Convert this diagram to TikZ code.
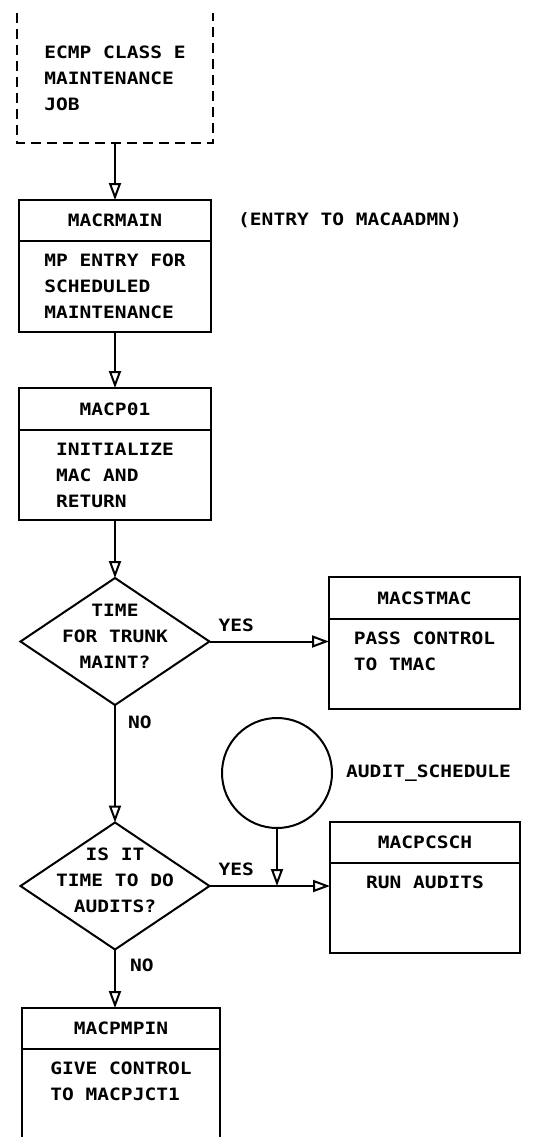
\documentclass[tikz,border=0pt]{standalone}
\usepackage{fontspec}
\setmonofont[FakeStretch=1.15]{DejaVu Sans Mono}
\usetikzlibrary{arrows.meta, positioning, shapes.geometric}
\newcommand{\zbox}[1]{\makebox[0pt]{\smash{\begin{tabular}{@{}c@{}}#1\end{tabular}}}}
\tikzset{
  hdbox/.style={draw, line width=2pt, minimum height=41pt, outer sep=0pt, inner sep=0pt},
  bdbox/.style={draw, line width=2pt, minimum height=90pt, outer sep=0pt, inner sep=0pt,
                align=left},
  decbox/.style={diamond, draw, line width=2pt, minimum width=189pt, minimum height=127pt,
                 inner sep=0pt, outer sep=0pt},
  arr/.style={-{Triangle[open, length=17pt, width=12pt]}, line width=2pt},
  lbl/.style={inner sep=0pt},
}

\begin{document}
\begin{tikzpicture}[x=1pt, y=-1pt, every node/.style={font=\ttfamily\bfseries\fontsize{17}{26}\selectfont}]
  \useasboundingbox[fill=white] (0,0) rectangle (540,1137);

  % starting job (open at the top)
  \node[minimum width=195pt, minimum height=130pt, align=left, inner sep=0pt]
    (job) at (115,78) {ECMP CLASS E\\MAINTENANCE\\JOB};
  \draw[line width=2pt, dash pattern=on 10pt off 6pt]
    (job.north west) -- (job.south west) -- (job.south east) -- (job.north east);

  \node[hdbox, minimum width=192pt] (mainhd) at (115,220.5) {MACRMAIN};
  \node[bdbox, minimum width=192pt, minimum height=91pt, below=0pt of mainhd]
    (mainbd) {MP ENTRY FOR\\SCHEDULED\\MAINTENANCE};
  \node[right=27pt of mainhd, inner sep=0pt] (entry) {(ENTRY TO MACAADMN)};

  \node[hdbox, minimum width=192pt, minimum height=42pt] (p01hd) at (115,409) {MACP01};
  \node[bdbox, minimum width=192pt, below=0pt of p01hd]
    (p01bd) {INITIALIZE\\MAC AND\\RETURN};

  \node[decbox] (trunk) at (115,641.5) {\zbox{TIME\\FOR TRUNK\\MAINT?}};
  \node[hdbox, minimum width=191pt, minimum height=42pt] (stmachd) at (424.5,598) {MACSTMAC};
  \node[bdbox, minimum width=191pt, below=0pt of stmachd]
    (stmacbd) {PASS CONTROL\\TO TMAC\\\mbox{}};

  \node[decbox] (audq) at (115,886) {\zbox{IS IT\\TIME TO DO\\AUDITS?}};
  \node[circle, draw, line width=2pt, minimum size=110pt, inner sep=0pt, outer sep=0pt]
    (sched) at (277,773) {};
  \node[right=14pt of sched, inner sep=0pt] (schedlbl) {AUDIT\_SCHEDULE};
  \node[hdbox, minimum width=190pt] (pcschhd) at (425,842.5) {MACPCSCH};
  \node[bdbox, minimum width=190pt, below=0pt of pcschhd]
    (pcschbd) {RUN AUDITS\\\mbox{}\\\mbox{}};

  \node[hdbox, minimum width=198pt] (mpinhd) at (121,1028.5) {MACPMPIN};
  \node[bdbox, minimum width=198pt, below=0pt of mpinhd]
    (mpinbd) {GIVE CONTROL\\TO MACPJCT1\\\mbox{}};

  % flow
  \draw[arr] (job.south) -- (mainhd.north);
  \draw[arr] (mainbd.south) -- (p01hd.north);
  \draw[arr] (p01bd.south) -- (trunk.north);
  \draw[arr] (trunk.east) -- (trunk.east -| stmacbd.west)
    node[lbl, pos=0, anchor=south west, xshift=8pt, yshift=9pt] {YES};
  \draw[arr] (trunk.south) -- (audq.north)
    node[lbl, pos=0.15, right=12pt] {NO};
  \draw[arr] (audq.east) -- (audq.east -| pcschbd.west)
    node[lbl, pos=0, anchor=south west, xshift=8pt, yshift=9pt] {YES};
  \draw[arr] (sched.south) -- (sched.south |- audq.east);
  \draw[arr] (audq.south) -- (audq.south |- mpinhd.north)
    node[lbl, pos=0.27, right=14pt] {NO};
\end{tikzpicture}
\end{document}
